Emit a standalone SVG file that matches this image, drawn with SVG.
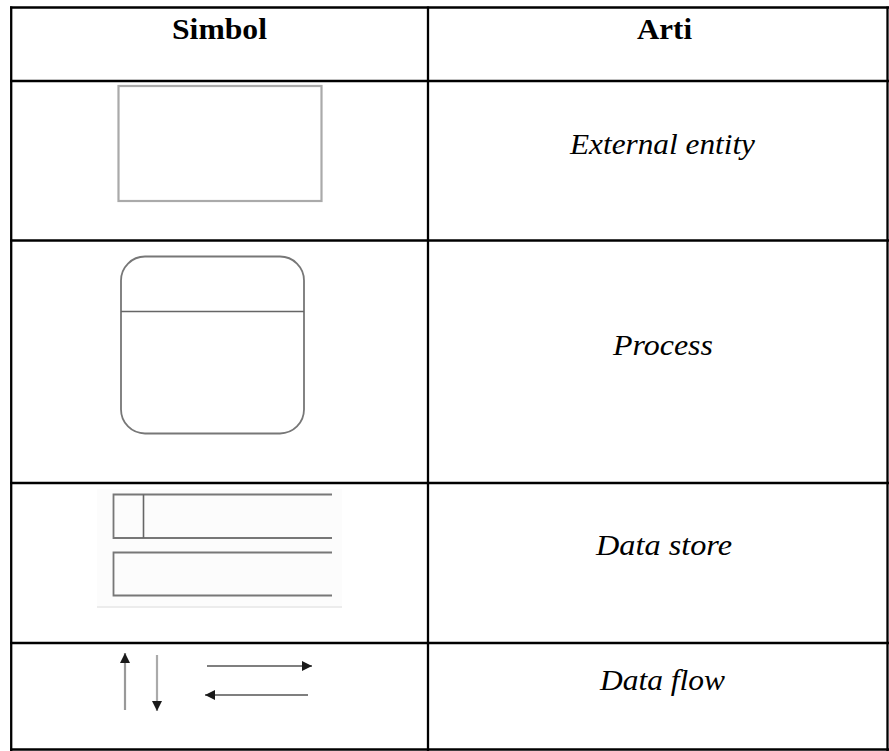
<svg xmlns="http://www.w3.org/2000/svg" width="889" height="751" viewBox="0 0 889 751">
  <defs>
    <style>
      .grid { stroke: #000; stroke-width: 2.3; fill: none; }
      .head { font-family: "Liberation Serif", "Times New Roman", serif; font-size: 29px; font-weight: bold; fill: #000; text-anchor: middle; }
      .label { font-family: "Liberation Serif", "Times New Roman", serif; font-size: 29px; font-style: italic; fill: #000; text-anchor: middle; }
      .sym { fill: none; stroke-linecap: butt; }
    </style>
    <marker id="tip" viewBox="0 0 10 10" refX="10" refY="5" markerWidth="11" markerHeight="10" orient="auto" markerUnits="userSpaceOnUse">
      <path d="M0,0 L10,5 L0,10 z" fill="#1a1a1a"/>
    </marker>
  </defs>
  <rect width="889" height="751" fill="#fff"/>

  <!-- table grid -->
  <g id="table">
    <line class="grid" x1="10" y1="7.5" x2="889" y2="7.5"/>
    <line class="grid" x1="10" y1="81" x2="889" y2="81"/>
    <line class="grid" x1="10" y1="240.5" x2="889" y2="240.5"/>
    <line class="grid" x1="10" y1="483" x2="889" y2="483"/>
    <line class="grid" x1="10" y1="643" x2="889" y2="643"/>
    <line class="grid" x1="10" y1="749.5" x2="889" y2="749.5"/>
    <line class="grid" x1="11.2" y1="6.5" x2="11.2" y2="751"/>
    <line class="grid" x1="428" y1="6.5" x2="428" y2="751"/>
    <line class="grid" x1="887.5" y1="6.5" x2="887.5" y2="751"/>
  </g>

  <!-- header -->
  <g id="header">
    <text class="head" x="219.5" y="39" textLength="95" lengthAdjust="spacingAndGlyphs">Simbol</text>
    <text class="head" x="664.5" y="38.5" textLength="55" lengthAdjust="spacingAndGlyphs">Arti</text>
  </g>

  <!-- external entity -->
  <g id="external-entity">
    <rect class="sym" x="118.5" y="86" width="203" height="115" stroke="#aaa" stroke-width="2.2"/>
    <text class="label" x="662.5" y="154" textLength="185" lengthAdjust="spacingAndGlyphs">External entity</text>
  </g>

  <!-- process -->
  <g id="process">
    <rect class="sym" x="121" y="256.5" width="183" height="177" rx="24" ry="24" stroke="#777" stroke-width="1.8"/>
    <line x1="121" y1="311.5" x2="304" y2="311.5" stroke="#666" stroke-width="1.6"/>
    <text class="label" x="663" y="355" textLength="100" lengthAdjust="spacingAndGlyphs">Process</text>
  </g>

  <!-- data store -->
  <g id="data-store">
    <rect x="97" y="489" width="245" height="118" fill="#fcfcfc" stroke="none"/>
    <line x1="97" y1="607" x2="342" y2="607" stroke="#ececec" stroke-width="2"/>
    <path class="sym" d="M332,494.5 H113.5 V538 H332" stroke="#777" stroke-width="1.8"/>
    <line x1="143.5" y1="494.5" x2="143.5" y2="538" stroke="#666" stroke-width="1.6"/>
    <path class="sym" d="M332,552.5 H113.5 V595.5 H332" stroke="#777" stroke-width="1.8"/>
    <text class="label" x="664" y="555" textLength="136" lengthAdjust="spacingAndGlyphs">Data store</text>
  </g>

  <!-- data flow -->
  <g id="data-flow">
    <g id="connectors">
      <line x1="125" y1="710" x2="125" y2="653" stroke="#999" stroke-width="2.2" marker-end="url(#tip)"/>
      <line x1="157" y1="655" x2="157" y2="711" stroke="#aaa" stroke-width="2.2" marker-end="url(#tip)"/>
      <line x1="207" y1="666" x2="312" y2="666" stroke="#555" stroke-width="1.6" marker-end="url(#tip)"/>
      <line x1="308" y1="695" x2="205" y2="695" stroke="#555" stroke-width="1.6" marker-end="url(#tip)"/>
    </g>
    <text class="label" x="662.5" y="690" textLength="125" lengthAdjust="spacingAndGlyphs">Data flow</text>
  </g>
</svg>
